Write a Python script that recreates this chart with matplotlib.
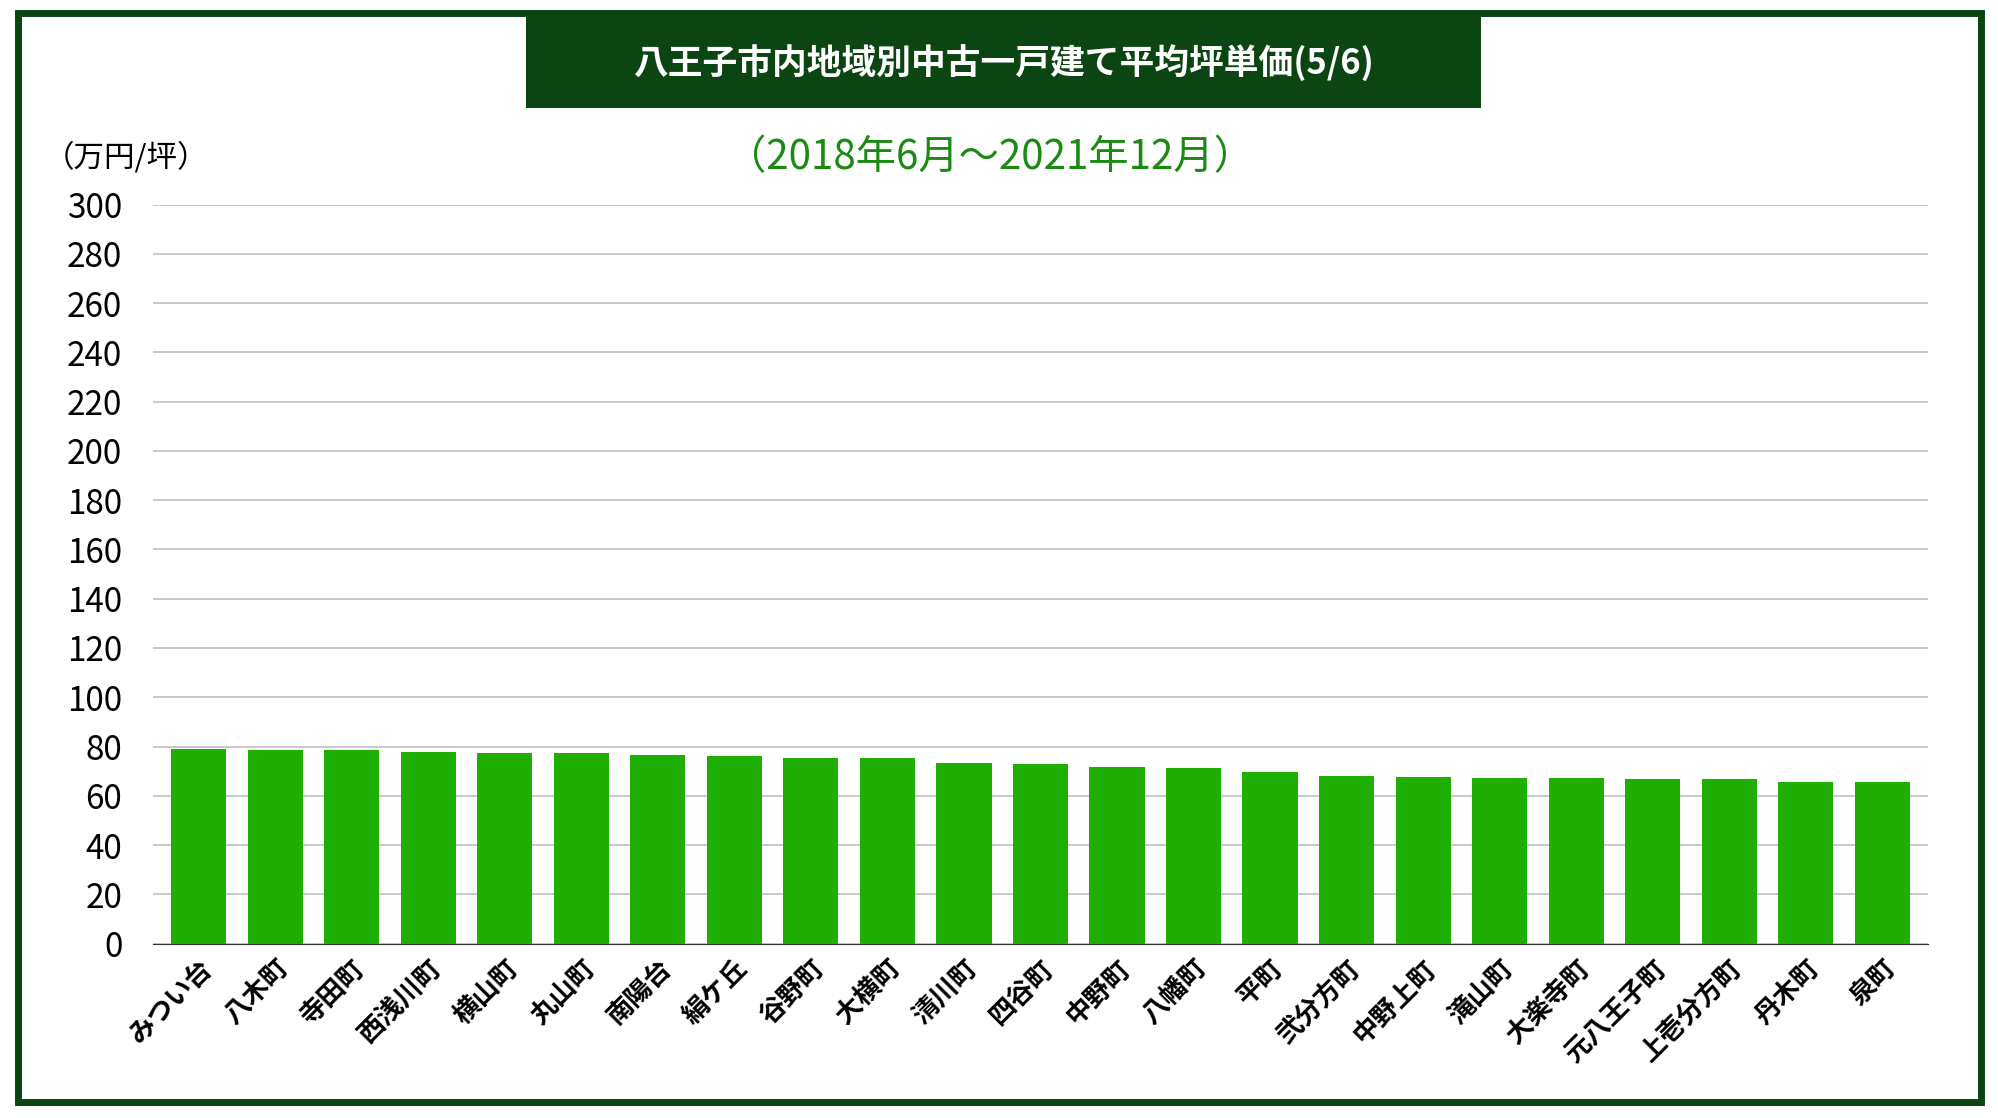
import matplotlib.pyplot as plt
from matplotlib.patches import Rectangle

plt.rcParams['font.family'] = ['Noto Sans CJK JP', 'DejaVu Sans']

# 地域名と平均坪単価(万円/坪)
areas = ['みつい台', '八木町', '寺田町', '西浅川町', '横山町', '丸山町', '南陽台', '絹ケ丘',
         '谷野町', '大横町', '清川町', '四谷町', '中野町', '八幡町', '平町', '弐分方町',
         '中野上町', '滝山町', '大楽寺町', '元八王子町', '上壱分方町', '丹木町', '泉町']
prices = [78.8, 78.4, 78.4, 77.6, 77.2, 77.2, 76.4, 76.0, 75.5, 75.5, 73.5, 73.1,
          71.5, 71.1, 69.5, 68.2, 67.8, 67.4, 67.4, 67.0, 67.0, 65.8, 65.8]
yticks = list(range(0, 301, 20))

fig = plt.figure(figsize=(19.99, 11.18), dpi=100)
dark = '#0b4512'

# 外枠
fig.patches.append(Rectangle((0.009, 0.014), 0.982, 0.974, transform=fig.transFigure,
                             fill=False, edgecolor=dark, linewidth=5))
# タイトル帯
fig.patches.append(Rectangle((0.263, 0.903), 0.478, 0.083, transform=fig.transFigure,
                             facecolor=dark, edgecolor='none'))
fig.text(0.502, 0.944, '八王子市内地域別中古一戸建て平均坪単価(5/6)', color='white',
         fontsize=25, fontweight='bold', ha='center', va='center')
fig.text(0.495, 0.859, '（2018年6月～2021年12月）', color='#1a8a10', fontsize=29,
         ha='center', va='center')
fig.text(0.022, 0.859, '（万円/坪）', fontsize=22, ha='left', va='center')

ax = fig.add_axes([0.0765, 0.156, 0.888, 0.661])
ax.bar(range(len(areas)), prices, width=0.72, color='#1faf03', zorder=3)
ax.set_ylim(0, 300)
ax.set_xlim(-0.6, len(areas) - 0.4)
ax.set_yticks(yticks)
ax.tick_params(axis='y', labelsize=24, length=0, pad=22)
ax.yaxis.grid(True, color='#c0c0c0', linewidth=1.2, zorder=0)
ax.set_xticks(range(len(areas)))
ax.set_xticklabels(areas, rotation=45, ha='right', rotation_mode='anchor',
                   fontsize=19, fontweight='bold')
ax.tick_params(axis='x', length=0, pad=8)
for s in ['top', 'right', 'left']:
    ax.spines[s].set_visible(False)
ax.spines['bottom'].set_color('#333333')

fig.savefig('out.png', dpi=100)
